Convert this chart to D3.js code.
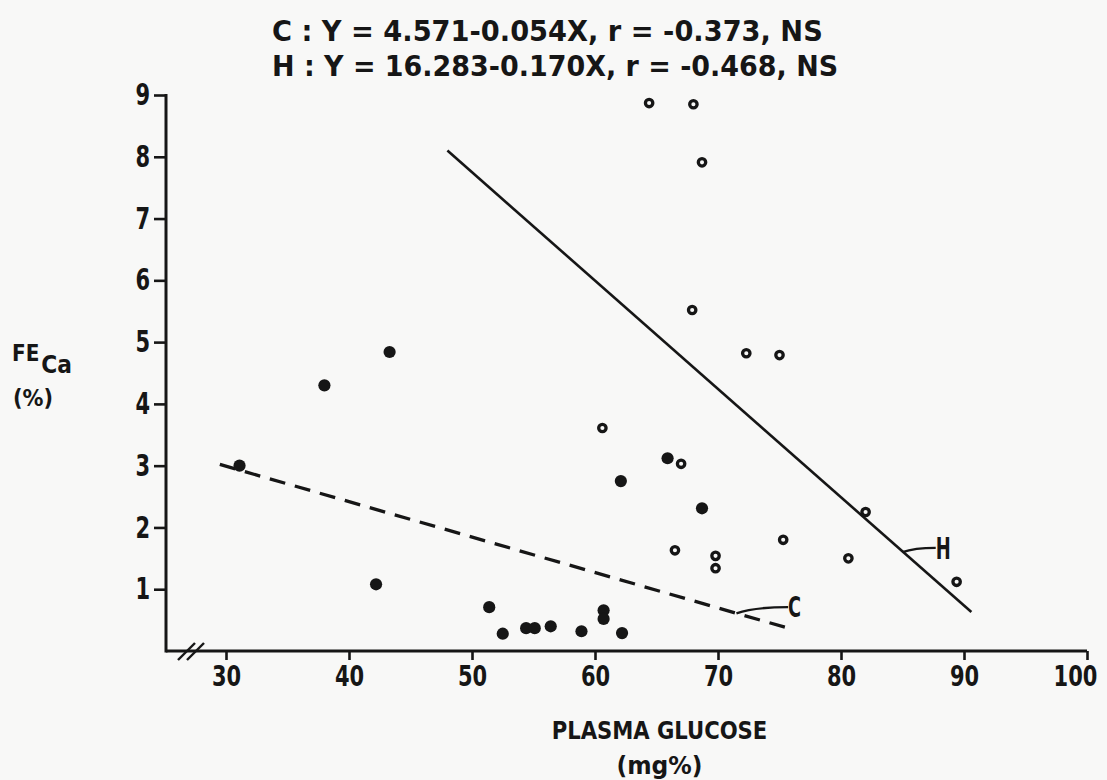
<!DOCTYPE html>
<html>
<head>
<meta charset="utf-8">
<script src="https://cdn.jsdelivr.net/npm/d3@7"></script>
<style>
  body { margin: 0; background: #f8f8f7; }
  svg { display: block; }
  text { font-family: "DejaVu Sans Condensed", "DejaVu Sans", sans-serif; font-weight: bold; fill: #161616; }
</style>
</head>
<body>
<script>
// group C (filled dots)
const cGlucose = [31.1, 38.0, 43.3, 42.2, 51.4, 52.5, 54.4, 55.1, 56.4, 58.9, 60.7, 60.7, 62.2, 62.1, 65.9, 68.7];
const cFeCa    = [3.00, 4.30, 4.84, 1.08, 0.71, 0.28, 0.37, 0.37, 0.40, 0.32, 0.66, 0.52, 0.29, 2.75, 3.12, 2.31];
// group H (open circles)
const hGlucose = [64.4, 68.0, 68.7, 67.9, 72.3, 75.0, 60.6, 67.0, 66.5, 69.8, 69.8, 75.3, 80.6, 82.0, 89.4];
const hFeCa    = [8.87, 8.85, 7.91, 5.52, 4.82, 4.79, 3.61, 3.03, 1.63, 1.54, 1.34, 1.80, 1.50, 2.25, 1.12];
// regression lines as drawn (end points)
const cFit = [[29.5, 3.02], [75.7, 0.37]];
const hFit = [[48.0, 8.10], [90.6, 0.63]];
// line tags: [from on line], [end of leader]
const cTag = { label: "C", from: [71.5, 0.61], to: [75.7, 0.71] };
const hTag = { label: "H", from: [85.0, 1.60], to: [87.7, 1.67] };

const xTicks = [30, 40, 50, 60, 70, 80, 90, 100];
const yTicks = [1, 2, 3, 4, 5, 6, 7, 8, 9];
const equations = ["C : Y = 4.571-0.054X, r = -0.373, NS",
                   "H : Y = 16.283-0.170X, r = -0.468, NS"];
const xTitle = ["PLASMA GLUCOSE", "(mg%)"];

let width = 1107;
let height = 780;
let ink = '#161616';
let axisX0 = 166;   // where the broken x axis starts

let x = d3.scaleLinear().domain([30, 100]).range([226, 1087]);
let y = d3.scaleLinear().domain([0, 9]).range([651, 95]);

let svg = d3.select('body').append('svg')
            .attr('width', width)
            .attr('height', height);

// equations on top
svg.selectAll('text.eq')
   .data(equations)
   .enter()
   .append('text')
   .attr('class', 'eq')
   .attr('x', 272)
   .attr('y', (d, i) => 41 + i * 35)
   .attr('font-size', 29)
   .attr('textLength', (d) => d.length * 15.3)
   .attr('lengthAdjust', 'spacingAndGlyphs')
   .attr('xml:space', 'preserve')
   .text((d) => d);

// axes
let xAxis = d3.axisBottom(x).tickValues(xTicks).tickSize(9).tickPadding(5).tickSizeOuter(0);
let yAxis = d3.axisLeft(y).tickValues(yTicks).tickSize(12).tickPadding(4).tickSizeOuter(0);

let gx = svg.append('g').attr('transform', 'translate(0,' + y(0) + ')').call(xAxis);
let gy = svg.append('g').attr('transform', 'translate(' + axisX0 + ',0)').call(yAxis);

gx.select('.domain').remove();
gy.select('.domain').remove();
[gx, gy].forEach((g) => {
  g.selectAll('.tick line').attr('stroke', ink).attr('stroke-width', 2.6);
  g.selectAll('.tick text')
   .attr('font-size', 30)
   .attr('font-family', null)
   .attr('fill', ink)
   .attr('textLength', (d) => String(d).length * 14.6)
   .attr('lengthAdjust', 'spacingAndGlyphs');
});
gx.selectAll('.tick text').attr('font-size', 28).attr('dy', '0.75em');
// the last label sits a little left of its tick
gx.selectAll('.tick text').filter((d) => d === 100).attr('x', -12);

// axis lines
svg.append('line')
   .attr('x1', axisX0).attr('x2', x(100))
   .attr('y1', y(0)).attr('y2', y(0))
   .attr('stroke', ink).attr('stroke-width', 3);
svg.append('line')
   .attr('x1', axisX0).attr('x2', axisX0)
   .attr('y1', y(0) + 1.5).attr('y2', y(9) - 1)
   .attr('stroke', ink).attr('stroke-width', 3);

// axis break //
[0, 9].forEach((off) => {
  svg.append('line')
     .attr('x1', axisX0 + 12 + off).attr('y1', y(0) + 9)
     .attr('x2', axisX0 + 29 + off).attr('y2', y(0) - 8)
     .attr('stroke', ink).attr('stroke-width', 2.4);
});

// axis titles
svg.selectAll('text.xt')
   .data(xTitle)
   .enter()
   .append('text')
   .attr('class', 'xt')
   .attr('x', x(65) + 3)
   .attr('y', (d, i) => 739 + i * 35)
   .attr('text-anchor', 'middle')
   .attr('font-size', 24)
   .attr('textLength', (d) => d.length * (d.length > 6 ? 15.4 : 17.2))
   .attr('lengthAdjust', 'spacingAndGlyphs')
   .text((d) => d);

// FE(Ca) as one label with a lowered subscript
let fe = svg.append('text')
            .attr('x', 12).attr('y', 361)
            .attr('textLength', 60)
            .attr('lengthAdjust', 'spacingAndGlyphs');
fe.append('tspan').attr('font-size', 23).text('FE');
fe.append('tspan').attr('font-size', 25).attr('dy', 12).attr('dx', 2).text('Ca');

svg.append('text').attr('x', 13).attr('y', 406).attr('font-size', 23)
   .attr('textLength', 40).attr('lengthAdjust', 'spacingAndGlyphs').text('(%)');

// regression lines
let line = d3.line().x((d) => x(d[0])).y((d) => y(d[1]));

svg.append('path')
   .attr('d', line(cFit))
   .attr('fill', 'none')
   .attr('stroke', ink)
   .attr('stroke-width', 3.3)
   .attr('stroke-dasharray', '16,10');

svg.append('path')
   .attr('d', line(hFit))
   .attr('fill', 'none')
   .attr('stroke', ink)
   .attr('stroke-width', 2.6);

// tags with curved leaders
[cTag, hTag].forEach((t) => {
  let x0 = x(t.from[0]), y0 = y(t.from[1]);
  let x1 = x(t.to[0]), y1 = y(t.to[1]);
  svg.append('path')
     .attr('d', 'M' + x0 + ',' + y0 + ' Q' + (x0 + (x1 - x0) * 0.35) + ',' + y1 + ' ' + x1 + ',' + y1)
     .attr('fill', 'none')
     .attr('stroke', ink)
     .attr('stroke-width', 2.4);
  svg.append('text')
     .attr('x', x1)
     .attr('y', y1)
     .attr('dy', '0.36em')
     .attr('font-size', t.label === 'H' ? 30 : 28)
     .attr('textLength', t.label === 'H' ? 15 : 13)
     .attr('lengthAdjust', 'spacingAndGlyphs')
     .text(t.label);
});

// points
let cData = cGlucose.map((g, i) => ({ g: g, f: cFeCa[i] }));
let hData = hGlucose.map((g, i) => ({ g: g, f: hFeCa[i] }));

svg.selectAll('circle.c')
   .data(cData)
   .enter()
   .append('circle')
   .attr('class', 'c')
   .attr('cx', (d) => x(d.g))
   .attr('cy', (d) => y(d.f))
   .attr('r', 6.1)
   .attr('fill', ink);

svg.selectAll('circle.h')
   .data(hData)
   .enter()
   .append('circle')
   .attr('class', 'h')
   .attr('cx', (d) => x(d.g))
   .attr('cy', (d) => y(d.f))
   .attr('r', 3.7)
   .attr('fill', '#f8f8f7')
   .attr('stroke', ink)
   .attr('stroke-width', 3.3);
</script>
</body>
</html>
